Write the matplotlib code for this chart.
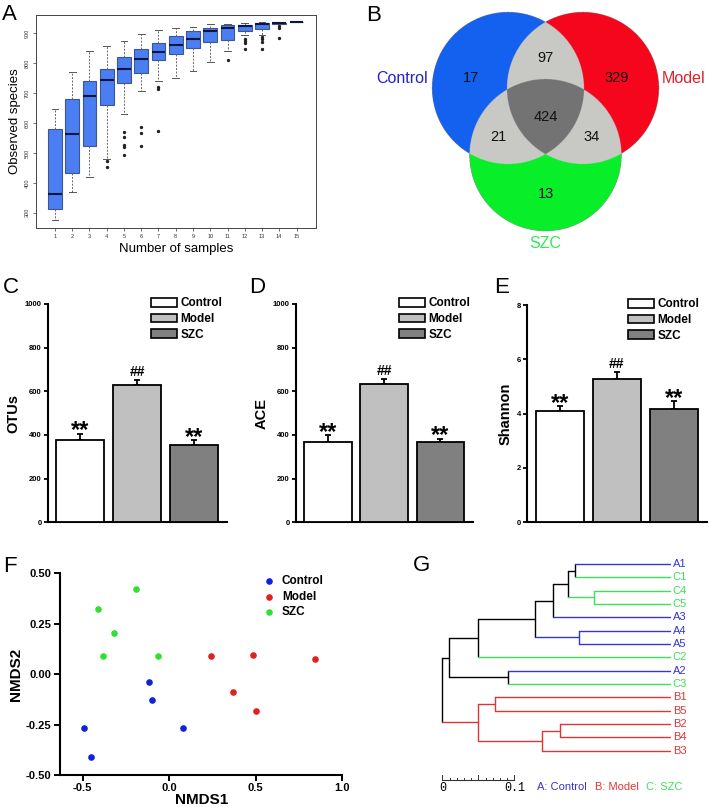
import matplotlib
matplotlib.use('Agg')
import matplotlib.pyplot as plt
import numpy as np
from matplotlib.patches import Patch
from matplotlib.colors import to_rgba

plt.rcParams['font.family'] = ['Liberation Sans', 'DejaVu Sans']

# ---------------- data ----------------
# A: observed species vs number of samples (boxplot stats)
n_samples = list(range(1, 16))
box_whishi = [647, 772, 839, 859, 874, 898, 912, 916, 922, 930, 932, 934, 936, 934, 936]
box_q3 = [579, 679, 739, 782, 822, 846, 867, 892, 906, 918, 926, 929, 933, 934, 936]
box_med = [364, 564, 690, 743, 781, 815, 836, 862, 880, 906, 917, 925, 930, 933, 936]
box_q1 = [311, 432, 524, 661, 733, 766, 811, 832, 851, 872, 879, 908, 914, 932, 936]
box_whislo = [277, 371, 420, 481, 629, 706, 739, 752, 773, 804, 839, 893, 894, 931, 936]
box_fliers = [[], [], [], [474, 454], [570, 554, 527, 520, 494], [587, 565, 523],
              [720, 715, 573], [], [], [], [809], [880, 874, 868, 848],
              [888, 880, 871, 849], [925, 917, 883], []]

# B: Venn counts
venn_sets = ['Control', 'Model', 'SZC']
venn_keys = ['100', '010', '001', '110', '101', '011', '111']
venn_counts = [17, 329, 13, 97, 21, 34, 424]

# C-E: alpha diversity
groups = ['Control', 'Model', 'SZC']
otus_mean = [376, 631, 352]
otus_err = [29, 23, 24]
ace_mean = [368, 635, 366]
ace_err = [30, 23, 17]
shannon_mean = [4.11, 5.29, 4.16]
shannon_err = [0.17, 0.25, 0.30]
sig_marks = ['**', '##', '**']

# F: NMDS
ctrl_x = [-0.116, -0.097, -0.494, -0.452, 0.081]
ctrl_y = [-0.037, -0.128, -0.269, -0.411, -0.269]
model_x = [0.239, 0.482, 0.843, 0.369, 0.501]
model_y = [0.090, 0.095, 0.074, -0.087, -0.184]
szc_x = [-0.193, -0.408, -0.320, -0.381, -0.065]
szc_y = [0.421, 0.325, 0.202, 0.090, 0.090]

# G: clustering tree (leaves 0-14, merged nodes numbered from 15)
leaf_labels = ['A1', 'C1', 'C4', 'C5', 'A3', 'A4', 'A5', 'C2', 'A2', 'C3',
               'B1', 'B5', 'B2', 'B4', 'B3']
merge_a = [0, 2, 15, 17, 5, 18, 20, 8, 21, 10, 12, 25, 24, 23]
merge_b = [1, 3, 16, 4, 6, 19, 7, 9, 22, 11, 13, 14, 26, 27]
merge_h = [0.132, 0.105, 0.141, 0.163, 0.126, 0.187, 0.267, 0.225, 0.307,
           0.243, 0.153, 0.178, 0.267, 0.316]

# ---------------- layout ----------------
W, H = 709, 807
fig = plt.figure(figsize=(W / 100, H / 100), dpi=100)


def px_axes(left, top, right, bottom):
    return fig.add_axes([left / W, 1 - bottom / H, (right - left) / W, (bottom - top) / H])


def panel_label(x, y, s):
    fig.text(x / W, 1 - y / H, s, fontsize=16, va='baseline', ha='left')


# ---------------- A ----------------
axA = px_axes(36, 15, 315.5, 228)
stats = [dict(med=m, q1=a, q3=b, whislo=lo, whishi=hi, fliers=f)
         for m, a, b, lo, hi, f in zip(box_med, box_q1, box_q3, box_whislo, box_whishi, box_fliers)]
axA.bxp(stats, positions=n_samples, widths=0.8, capwidths=0.4, patch_artist=True,
        boxprops=dict(facecolor='#4a7ef2', edgecolor='#3e5590', linewidth=0.8),
        medianprops=dict(color='#0b1640', linewidth=1.5),
        whiskerprops=dict(color='#666666', linestyle=(0, (2, 1.5)), linewidth=0.7),
        capprops=dict(color='#555555', linewidth=0.7),
        flierprops=dict(marker='o', markersize=1.4, markerfacecolor='#222222',
                        markeredgecolor='#222222', linestyle='none'))
axA.set_xlim(-0.1, 16.1)
axA.set_ylim(249, 961)
axA.set_yticks(range(300, 1000, 100))
axA.set_yticklabels([str(v) for v in range(300, 1000, 100)], rotation=90, va='center')
axA.set_xticks(n_samples)
axA.set_xticklabels([str(v) for v in n_samples])
axA.tick_params(labelsize=4, length=2.5, width=0.5, pad=2, colors='#333333')
for sp in axA.spines.values():
    sp.set_linewidth(0.7)
    sp.set_color('#444444')
axA.set_xlabel('Number of samples', fontsize=9.5, labelpad=3)
axA.set_ylabel('Observed species', fontsize=9.5, labelpad=3)
panel_label(2, 20, 'A')

# ---------------- B ----------------
axB = px_axes(365, 0, 709, 260)
x0, x1, y0, y1 = -2.375, 2.151, -2.263, 1.158
gx = np.linspace(x0, x1, 1376)
gy = np.linspace(y1, y0, 1040)
X, Y = np.meshgrid(gx, gy)
centers = [(-0.493, 0.0), (0.493, 0.0), (0.0, -0.882)]
inside = [(X - cx) ** 2 + (Y - cy) ** 2 <= 1.0 for cx, cy in centers]
region_colors = {'100': '#1560f0', '010': '#f5061e', '001': '#08f02a',
                 '110': '#c9c9c5', '101': '#c9c9c5', '011': '#c9c9c5', '111': '#737373'}
img = np.zeros(X.shape + (4,))
for key in venn_keys:
    m = np.ones(X.shape, bool)
    for k, ch in enumerate(key):
        m &= inside[k] if ch == '1' else ~inside[k]
    img[m] = to_rgba(region_colors[key])
axB.imshow(img, extent=(x0, x1, y0, y1), origin='upper', aspect='auto',
           interpolation='antialiased')
axB.set_xlim(x0, x1)
axB.set_ylim(y0, y1)
axB.axis('off')
count_pos = {'100': (-0.98, 0.13), '010': (0.94, 0.13), '001': (0.0, -1.39),
             '110': (0.0, 0.39), '101': (-0.62, -0.64), '011': (0.61, -0.64),
             '111': (0.0, -0.38)}
for key, n in zip(venn_keys, venn_counts):
    axB.text(*count_pos[key], str(n), ha='center', va='center', fontsize=10.5, color='#111111')
axB.text(-1.55, 0.13, venn_sets[0], ha='right', va='center', fontsize=11.5, color='#2222cc')
axB.text(1.53, 0.13, venn_sets[1], ha='left', va='center', fontsize=11.5, color='#e0202c')
axB.text(0.0, -2.04, venn_sets[2], ha='center', va='center', fontsize=11.5, color='#30e855')
panel_label(366, 21, 'B')

# ---------------- C, D, E ----------------
bar_colors = ['white', '#c0c0c0', '#808080']


def bar_panel(box, means, errs, ylim, yticks, ylabel, legend_x):
    ax = px_axes(*box)
    xs = np.arange(len(groups))
    ax.bar(xs, means, width=0.845, color=bar_colors, edgecolor='black', linewidth=1.3, zorder=3)
    ax.errorbar(xs, means, yerr=[np.zeros(len(errs)), errs], fmt='none', ecolor='black',
                elinewidth=1.3, capsize=2.2, capthick=1.3, zorder=2)
    for x, m, e, s in zip(xs, means, errs, sig_marks):
        if s == '**':
            ax.annotate(s, (x, m + e), xytext=(0, -2.5), textcoords='offset points',
                        ha='center', va='baseline', fontsize=17, fontweight='bold')
        else:
            ax.annotate(s, (x, m + e), xytext=(0, 2.5), textcoords='offset points',
                        ha='center', va='baseline', fontsize=10, fontweight='bold')
    ax.set_xlim(-0.57, 2.58)
    ax.set_ylim(*ylim)
    ax.set_xticks([])
    ax.set_yticks(yticks)
    ax.tick_params(axis='y', direction='out', length=3, width=1.3, labelsize=5.5, pad=1.5)
    for lab in ax.get_yticklabels():
        lab.set_fontweight('bold')
    for sp in ['top', 'right']:
        ax.spines[sp].set_visible(False)
    for sp in ['left', 'bottom']:
        ax.spines[sp].set_linewidth(1.5)
    ax.set_ylabel(ylabel, fontsize=10.5, fontweight='bold', labelpad=3)
    handles = [Patch(facecolor=c, edgecolor='black', linewidth=1.2) for c in bar_colors]
    ax.legend(handles, groups, loc='upper left', bbox_to_anchor=(legend_x, 1.03),
              frameon=False, prop=dict(size=8.5, weight='bold'), handlelength=2.2,
              handleheight=0.75, labelspacing=0.3, handletextpad=0.3, borderpad=0,
              borderaxespad=0)
    return ax


bar_panel((48, 304, 227, 522.3), otus_mean, otus_err, (0, 1000), range(0, 1001, 200), 'OTUs', 0.575)
bar_panel((296, 304, 473, 522.3), ace_mean, ace_err, (0, 1000), range(0, 1001, 200), 'ACE', 0.582)
bar_panel((527.3, 305, 707, 522.3), shannon_mean, shannon_err, (0, 8), range(0, 9, 2), 'Shannon', 0.56)
panel_label(3, 293, 'C')
panel_label(249, 293, 'D')
panel_label(494, 293, 'E')

# ---------------- F ----------------
axF = px_axes(60, 573.3, 342.3, 775)
axF.scatter(ctrl_x, ctrl_y, s=14, color='#1020e0', label='Control', zorder=3)
axF.scatter(model_x, model_y, s=14, color='#e02020', label='Model', zorder=3)
axF.scatter(szc_x, szc_y, s=14, color='#30e030', label='SZC', zorder=3)
axF.set_xlim(-0.63, 1.0)
axF.set_ylim(-0.5, 0.5)
axF.set_xticks([-0.5, 0.0, 0.5, 1.0])
axF.set_xticklabels(['-0.5', '0.0', '0.5', '1.0'])
axF.set_yticks([-0.5, -0.25, 0.0, 0.25, 0.5])
axF.set_yticklabels(['-0.50', '-0.25', '0.00', '0.25', '0.50'])
axF.tick_params(direction='out', length=4, width=1.4, labelsize=8, pad=2)
for lab in axF.get_xticklabels() + axF.get_yticklabels():
    lab.set_fontweight('bold')
for sp in ['top', 'right']:
    axF.spines[sp].set_visible(False)
for sp in ['left', 'bottom']:
    axF.spines[sp].set_linewidth(1.5)
axF.set_xlabel('NMDS1', fontsize=11, fontweight='bold', labelpad=0)
axF.set_ylabel('NMDS2', fontsize=11, fontweight='bold', labelpad=2)
axF.legend(loc='upper left', bbox_to_anchor=(0.715, 0.99), frameon=False,
           prop=dict(size=8.5, weight='bold'), handletextpad=0.5, labelspacing=0.3,
           borderpad=0, borderaxespad=0, handlelength=1.2)
panel_label(3, 572, 'F')

# ---------------- G ----------------
axG = px_axes(400, 550, 700, 800)
grp_color = {'A': '#3535d5', 'B': '#e03434', 'C': '#3ee05a'}
pos_y = list(range(len(leaf_labels)))
node_h = [0.0] * len(leaf_labels)
node_col = [grp_color[l[0]] for l in leaf_labels]
for a, b, h in zip(merge_a, merge_b, merge_h):
    col = node_col[a] if node_col[a] == node_col[b] else 'black'
    axG.plot([h, h], [pos_y[a], pos_y[b]], color=col, lw=1.0, solid_capstyle='round')
    axG.plot([h, node_h[a]], [pos_y[a], pos_y[a]], color=node_col[a], lw=1.0, solid_capstyle='round')
    axG.plot([h, node_h[b]], [pos_y[b], pos_y[b]], color=node_col[b], lw=1.0, solid_capstyle='round')
    pos_y.append((pos_y[a] + pos_y[b]) / 2)
    node_h.append(h)
    node_col.append(col)
for i, lab in enumerate(leaf_labels):
    axG.text(-0.004, i, lab, color=grp_color[lab[0]], fontsize=8, va='center', ha='left')

# scale bar 0 .. 0.1
root_h = max(merge_h)
bar_y = 16.2
axG.plot([root_h, root_h - 0.1], [bar_y, bar_y], color='#333333', lw=0.8)
for k in range(11):
    tl = 0.35 if k in (0, 5, 10) else 0.18
    axG.plot([root_h - 0.01 * k] * 2, [bar_y, bar_y - tl], color='#333333', lw=0.7)
axG.text(root_h, 16.8, '0', fontsize=8.5, family='Liberation Mono', ha='center', va='center')
axG.text(root_h - 0.1, 16.8, '0.1', fontsize=8.5, family='Liberation Mono', ha='center', va='center')
axG.text(0.185, 16.75, 'A: Control', color=grp_color['A'], fontsize=8, ha='left', va='center')
axG.text(0.104, 16.75, 'B: Model', color=grp_color['B'], fontsize=8, ha='left', va='center')
axG.text(0.033, 16.75, 'C: SZC', color=grp_color['C'], fontsize=8, ha='left', va='center')
axG.set_xlim(0.375, -0.0417)
axG.set_ylim(17.7, -1.05)
axG.axis('off')
panel_label(413, 571, 'G')

fig.savefig('out.png', dpi=100)
